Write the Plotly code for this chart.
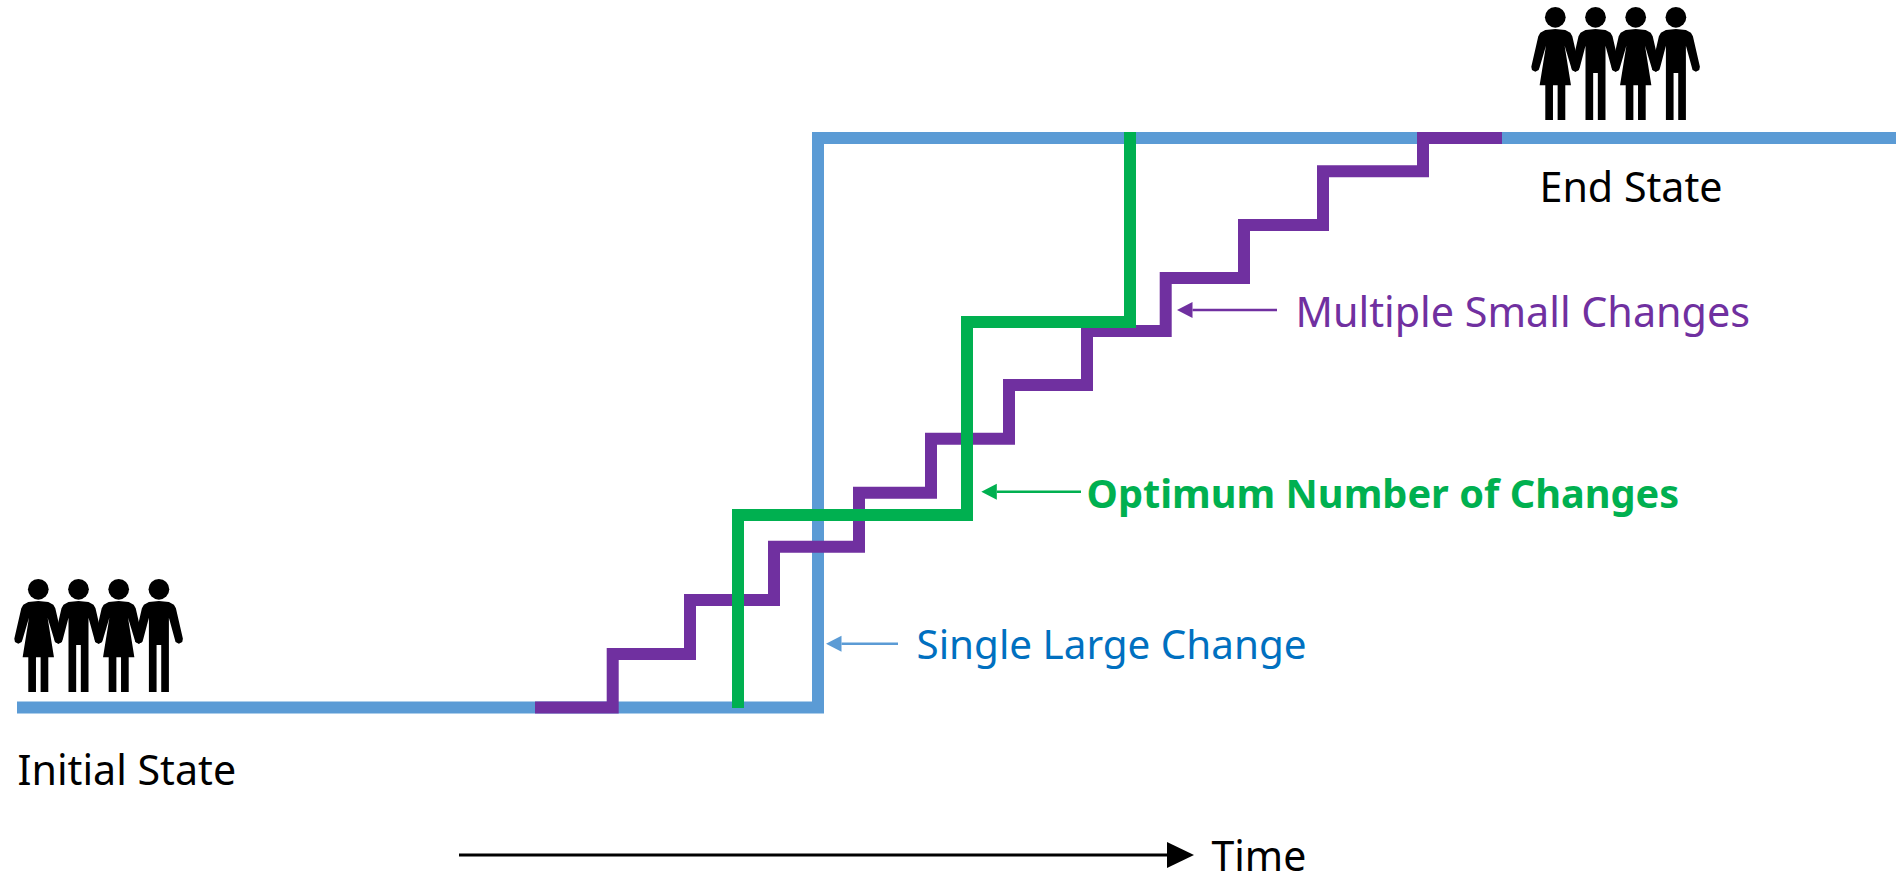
import plotly.graph_objects as go

# ---- data (in canvas pixels) ----
single_x = [17, 818, 818, 1896]
single_y = [707.5, 707.5, 138, 138]

multi_x = [535, 612.7, 612.7, 690, 690, 774, 774, 859, 859, 931, 931, 1009, 1009, 1087, 1087, 1165.7, 1165.7, 1244, 1244, 1323, 1323, 1423, 1423, 1502]
multi_y = [707.5, 707.5, 654, 654, 600, 600, 546.7, 546.7, 492.7, 492.7, 438.7, 438.7, 385, 385, 331, 331, 278, 278, 225, 225, 171.3, 171.3, 138, 138]

optimum_x = [738, 738, 967, 967, 1130, 1130]
optimum_y = [708, 515, 515, 322, 322, 132]

BLUE = "#5B9BD5"
PURPLE = "#7030A0"
GREEN = "#00B050"
TEXT_BLUE = "#0070C0"
FONT = "Noto Sans"

# pictogram outlines, zoom units (1/3 px), relative to the head centre
left_arm = [(0, 35), (-30, 38), (-45, 46), (-51, 57), (-72, 148), (-70, 158), (-60, 163), (-50, 158), (-47, 150)]
woman_half = left_arm + [(-28, 85), (-47, 204), (-30, 204), (-30, 308), (-7, 308), (-7, 204), (0, 204)]
man_half = left_arm + [(-30, 85), (-30, 308), (-7, 308), (-7, 167), (0, 167)]


def outline(half):
    right = [(-x, y) for x, y in reversed(half)]
    pts = half + right[1:]
    return [p[0] / 3 for p in pts], [p[1] / 3 for p in pts]


fig = go.Figure()


def add_line(x, y, color, width):
    fig.add_trace(go.Scatter(x=x, y=y, mode="lines", line=dict(color=color, width=width), hoverinfo="skip", showlegend=False))


add_line(single_x, single_y, BLUE, 12)
add_line(multi_x, multi_y, PURPLE, 12)
add_line(optimum_x, optimum_y, GREEN, 12)


def add_arrow(x_start, x_tip, y, color, width, head_len, head_half):
    sign = 1 if x_tip > x_start else -1
    base = x_tip - sign * head_len
    add_line([x_start, base], [y, y], color, width)
    fig.add_trace(go.Scatter(x=[base, x_tip, base, base], y=[y - head_half, y, y + head_half, y - head_half],
                             mode="lines", fill="toself", fillcolor=color, line=dict(width=0, color=color),
                             hoverinfo="skip", showlegend=False))


add_arrow(898, 826, 643.7, BLUE, 2.5, 15.5, 8)
add_arrow(1081, 981.3, 491.7, GREEN, 2.5, 15.5, 8)
add_arrow(1277, 1177, 310, PURPLE, 2.5, 15.5, 8)
add_arrow(459, 1194, 855, "#000000", 3, 27, 13)


def add_people(hx, hy):
    spacing = 40.2
    for i, half in enumerate([woman_half, man_half, woman_half, man_half]):
        cx = hx + i * spacing
        ox, oy = outline(half)
        fig.add_trace(go.Scatter(x=[cx + v for v in ox] + [cx + ox[0]], y=[hy + v for v in oy] + [hy + oy[0]],
                                 mode="lines", fill="toself", fillcolor="#000000", line=dict(width=0, color="#000000"),
                                 hoverinfo="skip", showlegend=False))
        fig.add_trace(go.Scatter(x=[cx], y=[hy], mode="markers", marker=dict(size=20.7, color="#000000", line=dict(width=0)),
                                 hoverinfo="skip", showlegend=False))


add_people(38.3, 589.3)
add_people(1555.3, 17.3)

labels = [
    ("Initial State", 17.5, 775, "#000000", 41.2),
    ("End State", 1539.5, 192, "#000000", 41.2),
    ("Single Large Change", 916.5, 649, TEXT_BLUE, 40.4),
    ("Multiple Small Changes", 1295.5, 317, PURPLE, 41.3),
    ("<b>Optimum Number of Changes</b>", 1086.5, 498, GREEN, 39.7),
    ("Time", 1211.5, 861, "#000000", 41),
]
for text, x, y, color, size in labels:
    fig.add_trace(go.Scatter(x=[x], y=[y], mode="text", text=[text], textposition="middle right", cliponaxis=False,
                             textfont=dict(family=FONT, size=size, color=color), hoverinfo="skip", showlegend=False))

fig.update_layout(width=1896, height=875, margin=dict(l=0, r=0, t=0, b=0), paper_bgcolor="white", plot_bgcolor="white",
                  showlegend=False, hovermode=False,
                  xaxis=dict(range=[0, 1896], visible=False, fixedrange=True),
                  yaxis=dict(range=[875, 0], visible=False, fixedrange=True))
fig.write_html("out.html", post_script="document.body.style.margin='0';", config={"displayModeBar": False})
